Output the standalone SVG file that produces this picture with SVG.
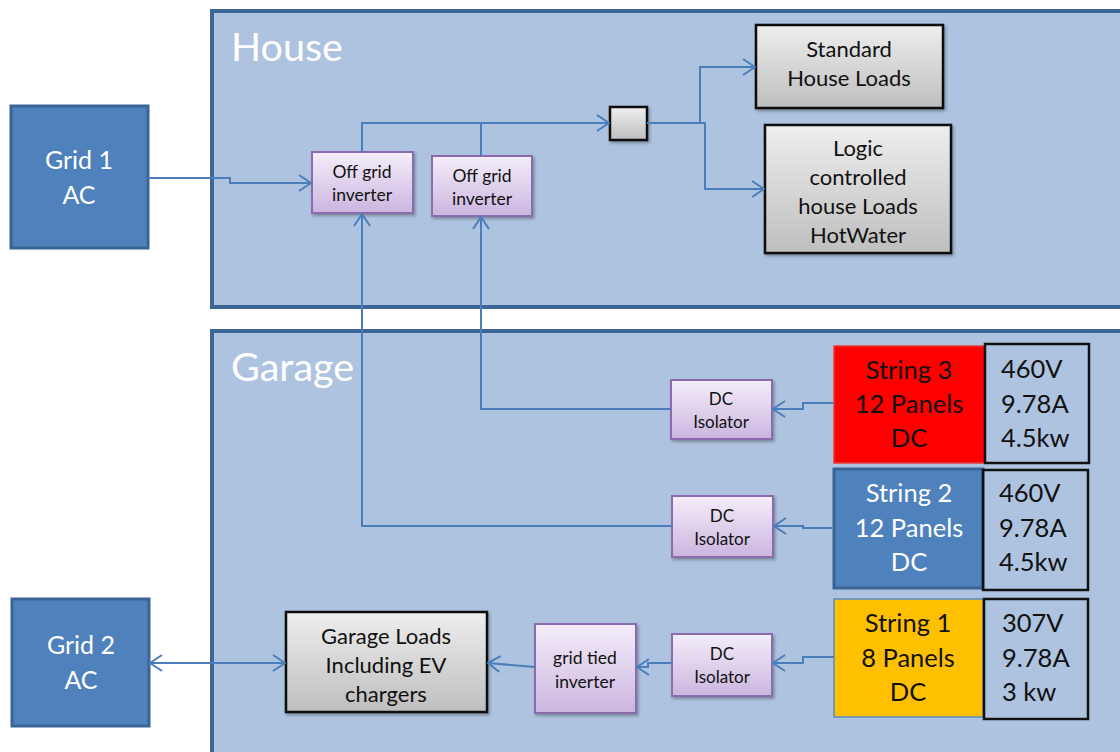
<svg xmlns="http://www.w3.org/2000/svg" width="1120" height="752" viewBox="0 0 1120 752">
<defs>
<linearGradient id="gPurple" x1="0" y1="0" x2="0" y2="1"><stop offset="0" stop-color="#F4EDFA"/><stop offset="1" stop-color="#CBB5DF"/></linearGradient>
<linearGradient id="gGrey" x1="0" y1="0" x2="0" y2="1"><stop offset="0" stop-color="#EEEEEE"/><stop offset="1" stop-color="#BEBEBE"/></linearGradient>
<filter id="sh" x="-10%" y="-10%" width="130%" height="130%"><feDropShadow dx="1.5" dy="2" stdDeviation="1.5" flood-color="#000" flood-opacity="0.3"/></filter>
<marker id="arr" viewBox="0 0 14 18" refX="13" refY="9" markerWidth="14" markerHeight="18" markerUnits="userSpaceOnUse" orient="auto-start-reverse"><path d="M1,1 L13,9 L1,17" fill="none" stroke="#4A7EBB" stroke-width="2"/></marker>
<style>
.panel{fill:#AEC3E0;stroke:#3C6696;stroke-width:4}
.ptitle{font-family:Lato,"Liberation Sans",sans-serif;font-size:39.5px;fill:#FFFFFF}
.grid{fill:#4F81BD;stroke:#3A6494;stroke-width:3}
.wt{font-family:Lato,"Liberation Sans",sans-serif;fill:#FFFFFF;text-anchor:middle}
.bt{font-family:Lato,"Liberation Sans",sans-serif;fill:#111111;text-anchor:middle}
.vt{font-family:Lato,"Liberation Sans",sans-serif;fill:#111111;font-size:25.5px}
.inv{fill:url(#gPurple);stroke:#8B6BAE;stroke-width:2;filter:url(#sh)}
.load{fill:url(#gGrey);stroke:#111111;stroke-width:2.5;filter:url(#sh)}
.val{fill:none;stroke:#111111;stroke-width:2.5}
.conn path{fill:none;stroke:#4A7EBB;stroke-width:2}
</style>
</defs>
<rect width="1120" height="752" fill="#FFFFFF"/>

<g id="house">
<rect class="panel" x="212" y="11" width="920" height="296"/>
<text class="ptitle" x="231" y="61">House</text>
</g>
<g id="garage">
<rect class="panel" x="212" y="331" width="920" height="440"/>
<text class="ptitle" x="231" y="381">Garage</text>
</g>

<g id="grid1">
<rect class="grid" x="11" y="106" width="137" height="142"/>
<text class="wt" x="79" y="169" font-size="25">Grid 1</text>
<text class="wt" x="79" y="204" font-size="25">AC</text>
</g>
<g id="grid2">
<rect class="grid" x="12" y="599" width="137" height="127"/>
<text class="wt" x="81" y="654" font-size="25">Grid 2</text>
<text class="wt" x="81" y="689" font-size="25">AC</text>
</g>

<g id="inverter1">
<rect class="inv" x="312" y="152" width="101" height="61"/>
<text class="bt" x="362" y="178" font-size="17.5">Off grid</text>
<text class="bt" x="362" y="201" font-size="17.5">inverter</text>
</g>
<g id="inverter2">
<rect class="inv" x="432" y="156" width="100" height="60"/>
<text class="bt" x="482" y="182" font-size="17.5">Off grid</text>
<text class="bt" x="482" y="205" font-size="17.5">inverter</text>
</g>

<g id="junction">
<rect class="load" x="610" y="107" width="37" height="33"/>
</g>

<g id="standard-loads">
<rect class="load" x="756" y="25" width="187" height="83"/>
<text class="bt" x="849" y="57" font-size="22">Standard</text>
<text class="bt" x="849" y="86" font-size="22">House Loads</text>
</g>
<g id="logic-loads">
<rect class="load" x="765" y="125" width="186" height="128"/>
<text class="bt" x="858" y="156" font-size="22">Logic</text>
<text class="bt" x="858" y="185" font-size="22">controlled</text>
<text class="bt" x="858" y="214" font-size="22">house Loads</text>
<text class="bt" x="858" y="243" font-size="22">HotWater</text>
</g>

<g id="isolator3">
<rect class="inv" x="671" y="380" width="101" height="59"/>
<text class="bt" x="721" y="405" font-size="17">DC</text>
<text class="bt" x="721" y="428" font-size="17">Isolator</text>
</g>
<g id="isolator2">
<rect class="inv" x="672" y="496" width="101" height="61"/>
<text class="bt" x="722" y="522" font-size="17">DC</text>
<text class="bt" x="722" y="545" font-size="17">Isolator</text>
</g>
<g id="isolator1">
<rect class="inv" x="672" y="634" width="100" height="62"/>
<text class="bt" x="722" y="660" font-size="17">DC</text>
<text class="bt" x="722" y="683" font-size="17">Isolator</text>
</g>

<g id="grid-tied-inverter">
<rect class="inv" x="535" y="624" width="101" height="89"/>
<text class="bt" x="585" y="664" font-size="17.5">grid tied</text>
<text class="bt" x="585" y="688" font-size="17.5">inverter</text>
</g>

<g id="garage-loads">
<rect class="load" x="286" y="612" width="201" height="100"/>
<text class="bt" x="386" y="644" font-size="22">Garage Loads</text>
<text class="bt" x="386" y="673" font-size="22">Including EV</text>
<text class="bt" x="386" y="702" font-size="22">chargers</text>
</g>

<g id="string3">
<rect x="834" y="346" width="151" height="117" fill="#FF0000" stroke="#E83A3A" stroke-width="1.5"/>
<text class="bt" x="909" y="379" font-size="25.5">String 3</text>
<text class="bt" x="909" y="413" font-size="25.5">12 Panels</text>
<text class="bt" x="909" y="447" font-size="25.5">DC</text>
</g>
<g id="values3">
<rect class="val" x="985" y="344" width="104" height="119"/>
<text class="vt" x="1001" y="378">460V</text>
<text class="vt" x="1001" y="413">9.78A</text>
<text class="vt" x="1001" y="447">4.5kw</text>
</g>

<g id="string2">
<rect x="834" y="469" width="149" height="119" fill="#4F81BD" stroke="#3A6494" stroke-width="3"/>
<text class="wt" x="909" y="502" font-size="25.5">String 2</text>
<text class="wt" x="909" y="537" font-size="25.5">12 Panels</text>
<text class="wt" x="909" y="571" font-size="25.5">DC</text>
</g>
<g id="values2">
<rect class="val" x="983" y="470" width="105" height="120"/>
<text class="vt" x="999" y="502">460V</text>
<text class="vt" x="999" y="537">9.78A</text>
<text class="vt" x="999" y="571">4.5kw</text>
</g>

<g id="string1">
<rect x="834" y="599" width="149" height="118" fill="#FFC000" stroke="#5B8BC4" stroke-width="1.5"/>
<text class="bt" x="908" y="632" font-size="25.5">String 1</text>
<text class="bt" x="908" y="667" font-size="25.5">8 Panels</text>
<text class="bt" x="908" y="701" font-size="25.5">DC</text>
</g>
<g id="values1">
<rect class="val" x="984" y="599" width="104" height="120"/>
<text class="vt" x="1002" y="632">307V</text>
<text class="vt" x="1002" y="667">9.78A</text>
<text class="vt" x="1002" y="701">3 kw</text>
</g>

<g id="connectors" class="conn">
<path d="M148,178 H230 V183 H311" marker-end="url(#arr)"/>
<path d="M362,152 V123 H609" marker-end="url(#arr)"/>
<path d="M481,156 V123"/>
<path d="M647,123 H700 V67 H755" marker-end="url(#arr)"/>
<path d="M700,123 H705 V189 H764" marker-end="url(#arr)"/>
<path d="M671,409 H481 V217" marker-end="url(#arr)"/>
<path d="M672,526 H362 V214" marker-end="url(#arr)"/>
<path d="M834,403 H803 V409 H773" marker-end="url(#arr)"/>
<path d="M834,528 H803 V526 H774" marker-end="url(#arr)"/>
<path d="M834,657 H803 V663 H773" marker-end="url(#arr)"/>
<path d="M672,663 H648 V667 H637" marker-end="url(#arr)"/>
<path d="M535,667 L488,663" marker-end="url(#arr)"/>
<path d="M150,663 H285" marker-start="url(#arr)" marker-end="url(#arr)"/>
</g>
</svg>
